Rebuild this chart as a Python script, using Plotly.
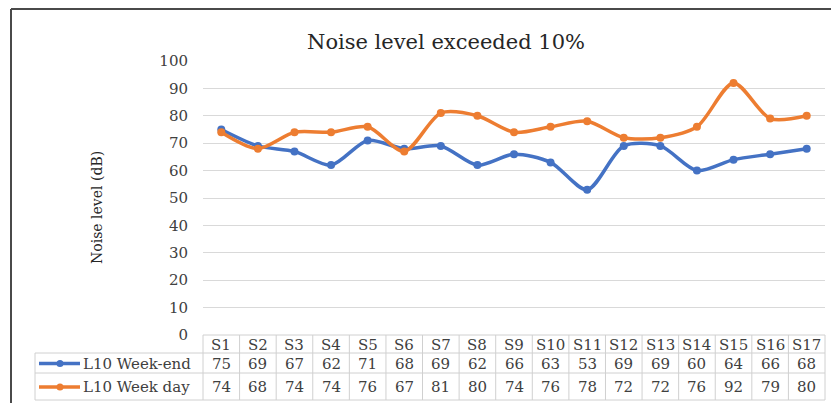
import plotly.graph_objects as go

# ---- data ----
sites = ["S1", "S2", "S3", "S4", "S5", "S6", "S7", "S8", "S9", "S10",
         "S11", "S12", "S13", "S14", "S15", "S16", "S17"]
week_end = [75, 69, 67, 62, 71, 68, 69, 62, 66, 63, 53, 69, 69, 60, 64, 66, 68]
week_day = [74, 68, 74, 74, 76, 67, 81, 80, 74, 76, 78, 72, 72, 76, 92, 79, 80]
series_names = ["L10 Week-end", "L10 Week day"]
series_colors = ["#4472C4", "#ED7D31"]
y_ticks = list(range(0, 101, 10))

# ---- geometry (pixels) ----
W, H = 831, 403
ML, MR, MT, MB = 203, 6, 61, 68
PW, PH = W - ML - MR, H - MT - MB
BASE = H - MB  # pixel row of the plot bottom


def px(xp):
    return (xp - ML) / PW


def py(yp):
    return (BASE - yp) / PH


FONT = "DejaVu Serif"
TXT = "#404040"
GRID = "#d9d9d9"
n = len(sites)

fig = go.Figure()
for name, vals, col in zip(series_names, [week_end, week_day], series_colors):
    fig.add_trace(go.Scatter(
        x=sites, y=vals, name=name, mode="lines+markers",
        line=dict(color=col, width=3.5, shape="spline", smoothing=0.8),
        marker=dict(color=col, size=8), showlegend=False,
    ))

shapes = []
annotations = []

# table rows: header, week-end, week day
row_edges = [BASE, 353, 373, 400]
row_centers = [344.5, 363.5, 387]
tbl_left = 35
line_style = dict(color="#d0d0d0", width=1)

for k in range(n + 1):
    shapes.append(dict(type="line", xref="paper", yref="paper",
                       x0=k / n, x1=k / n, y0=py(row_edges[0]), y1=py(row_edges[-1]),
                       line=line_style))
shapes.append(dict(type="line", xref="paper", yref="paper",
                   x0=px(tbl_left), x1=px(tbl_left), y0=py(row_edges[1]), y1=py(row_edges[-1]),
                   line=line_style))
for i, ye in enumerate(row_edges):
    x0 = 0 if i == 0 else px(tbl_left)
    shapes.append(dict(type="line", xref="paper", yref="paper",
                       x0=x0, x1=1, y0=py(ye), y1=py(ye), line=line_style))

cell_font = dict(family=FONT, size=15, color=TXT)
for s in sites:
    annotations.append(dict(x=s, xref="x", y=py(row_centers[0]), yref="paper",
                            text=s, showarrow=False, font=cell_font,
                            xanchor="center", yanchor="middle"))
for r, (name, vals, col) in enumerate(zip(series_names, [week_end, week_day], series_colors)):
    yc = py(row_centers[r + 1])
    for s, v in zip(sites, vals):
        annotations.append(dict(x=s, xref="x", y=yc, yref="paper",
                                text=str(v), showarrow=False, font=cell_font,
                                xanchor="center", yanchor="middle"))
    # legend key inside the table
    shapes.append(dict(type="line", xref="paper", yref="paper",
                       x0=px(39), x1=px(80), y0=yc, y1=yc,
                       line=dict(color=col, width=3.5)))
    shapes.append(dict(type="circle", xref="paper", yref="paper",
                       x0=px(56.5), x1=px(63.5), y0=yc - 3.5 / PH, y1=yc + 3.5 / PH,
                       fillcolor=col, line=dict(color=col, width=0)))
    annotations.append(dict(x=px(81), xref="paper", y=yc, yref="paper",
                            text=name, showarrow=False, font=cell_font,
                            xanchor="left", yanchor="middle"))

# outer frame (top and left edges)
frame = dict(color="#4a4a4a", width=2)
shapes.append(dict(type="line", xref="paper", yref="paper",
                   x0=px(11), x1=px(W + 5), y0=py(9), y1=py(9), line=frame))
shapes.append(dict(type="line", xref="paper", yref="paper",
                   x0=px(11), x1=px(11), y0=py(9), y1=py(H + 5), line=frame))

# title and y-axis title
annotations.append(dict(x=px(446), xref="paper", y=py(42), yref="paper",
                        text="Noise level exceeded 10%", showarrow=False,
                        font=dict(family=FONT, size=21, color="#262626"),
                        xanchor="center", yanchor="middle"))
annotations.append(dict(x=px(97), xref="paper", y=py(208), yref="paper",
                        text="Noise level (dB)", textangle=-90, showarrow=False,
                        font=dict(family=FONT, size=14, color="#262626"),
                        xanchor="center", yanchor="middle"))

fig.update_layout(
    width=W, height=H,
    margin=dict(l=ML, r=MR, t=MT, b=MB, pad=0),
    paper_bgcolor="white", plot_bgcolor="white",
    shapes=shapes, annotations=annotations,
    xaxis=dict(range=[-0.5, n - 0.5], showticklabels=False, showgrid=False,
               zeroline=False, showline=False, ticks=""),
    yaxis=dict(range=[0, 100], tickvals=y_ticks, showgrid=True, gridcolor=GRID,
               gridwidth=1, zeroline=False, showline=False, ticks="",
               ticklabelstandoff=14,
               tickfont=dict(family=FONT, size=15, color=TXT)),
)

fig.write_html("out.html")
